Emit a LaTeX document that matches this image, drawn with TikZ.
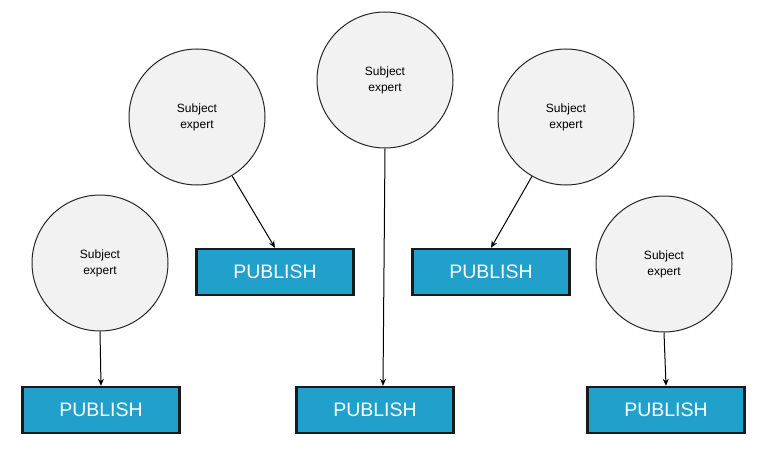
\documentclass[tikz,border=0pt]{standalone}
\usepackage{fontspec}
\setmainfont{Liberation Sans}
\usetikzlibrary{arrows.meta}
\definecolor{pub}{HTML}{22A0CC}
\definecolor{circ}{HTML}{F2F2F2}
\begin{document}
\begin{tikzpicture}[x=1pt,y=-1pt,
 expert/.style={circle,draw=black!85,line width=1pt,fill=circ,minimum size=136pt,inner sep=0pt,align=center,font=\fontsize{12}{16}\selectfont},
 publish/.style={rectangle,draw=black!90,line width=2.4pt,fill=pub,minimum width=157pt,minimum height=46pt,text=white,font=\fontsize{19.5}{22}\selectfont},
 link/.style={draw=black,line width=1pt,-{Stealth[length=7pt,width=6pt]}}]
\useasboundingbox (0,0) rectangle (768,460);
\node[expert] (c1) at (100,263) {Subject\\expert};
\node[expert] (c2) at (197,117) {Subject\\expert};
\node[expert] (c3) at (385,80) {Subject\\expert};
\node[expert] (c4) at (566,117) {Subject\\expert};
\node[expert] (c5) at (664,264) {Subject\\expert};
\node[publish] (b1) at (101,410) {PUBLISH};
\node[publish] (b2) at (275,272) {PUBLISH};
\node[publish] (b3) at (375,410) {PUBLISH};
\node[publish] (b4) at (491,272) {PUBLISH};
\node[publish] (b5) at (666,410) {PUBLISH};
\draw[link] (c1.south) -- (b1.north);
\draw[link] (c2) -- (b2.north);
\draw[link] (c3.south) -- (b3.north -| 383,0);
\draw[link] (c4) -- (b4.north);
\draw[link] (c5.south) -- (b5.north);
\end{tikzpicture}
\end{document}
